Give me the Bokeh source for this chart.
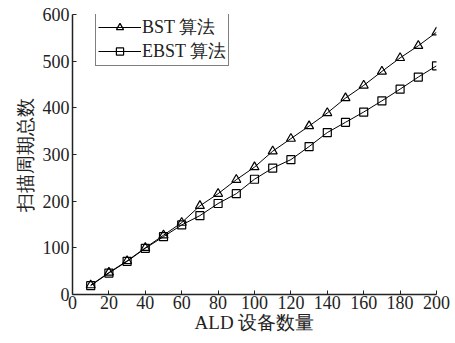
from bokeh.plotting import figure
from bokeh.models import Legend, LegendItem, Range1d, FixedTicker
from bokeh.embed import file_html
from bokeh.resources import INLINE

x_devices = [10, 20, 30, 40, 50, 60, 70, 80, 90, 100, 110, 120, 130, 140, 150, 160, 170, 180, 190, 200]
bst = [20, 47, 72, 100, 127, 154, 190, 216, 246, 273, 307, 334, 361, 389, 421, 448, 478, 507, 533, 562]
ebst = [19, 46, 71, 99, 124, 149, 169, 195, 216, 247, 271, 289, 317, 347, 369, 391, 415, 440, 466, 490]
x_ticks = [0, 20, 40, 60, 80, 100, 120, 140, 160, 180, 200]
y_ticks = [0, 100, 200, 300, 400, 500, 600]
series_names = ["BST 算法", "EBST 算法"]
x_title = "ALD 设备数量"
y_title = "扫描周期总数"

FONT = "Liberation Serif"

p = figure(width=450, height=335, output_backend="svg", toolbar_location=None,
           x_range=Range1d(0, 200), y_range=Range1d(0, 600),
           min_border_left=72, min_border_right=14, min_border_top=14, min_border_bottom=38)
p.outline_line_color = None
p.xgrid.visible = False
p.ygrid.visible = False
p.background_fill_color = "white"

for ax in (p.xaxis[0], p.yaxis[0]):
    ax.major_tick_in = 4
    ax.major_tick_out = 0
    ax.minor_tick_line_color = None
    ax.axis_line_color = "#222222"
    ax.axis_line_width = 1.5
    ax.major_tick_line_color = "#222222"
    ax.major_label_text_font = FONT
    ax.major_label_text_font_size = "18px"
    ax.major_label_text_color = "#222222"
    ax.axis_label_text_font = FONT
    ax.axis_label_text_font_size = "19px"
    ax.axis_label_text_font_style = "normal"
    ax.axis_label_text_color = "#222222"

p.xaxis.ticker = FixedTicker(ticks=x_ticks)
p.yaxis.ticker = FixedTicker(ticks=y_ticks)
p.xaxis.major_label_standoff = 1
p.yaxis.major_label_standoff = 3
p.xaxis.axis_label = x_title
p.yaxis.axis_label = y_title
p.xaxis.axis_label_standoff = 0
p.yaxis.axis_label_standoff = 4

l1 = p.line(x_devices, bst, line_color="black", line_width=1)
m1 = p.scatter(x_devices, bst, marker="triangle", size=9, fill_color=None, line_color="black", line_width=1.2)
l2 = p.line(x_devices, ebst, line_color="black", line_width=1)
m2 = p.scatter(x_devices, ebst, marker="square", size=8, fill_color=None, line_color="black", line_width=1.2)

legend = Legend(items=[LegendItem(label=series_names[0], renderers=[l1, m1]),
                       LegendItem(label=series_names[1], renderers=[l2, m2])],
                location=(23, 228))
legend.label_text_font = FONT
legend.label_text_font_size = "18px"
legend.label_text_color = "#222222"
legend.glyph_width = 43
legend.glyph_height = 18
legend.label_height = 18
legend.label_standoff = 1
legend.spacing = 0
legend.padding = 2
legend.margin = 0
legend.border_line_color = "black"
legend.border_line_width = 1
legend.background_fill_alpha = 1
p.add_layout(legend)

open("out.html", "w").write(file_html(p, INLINE))
